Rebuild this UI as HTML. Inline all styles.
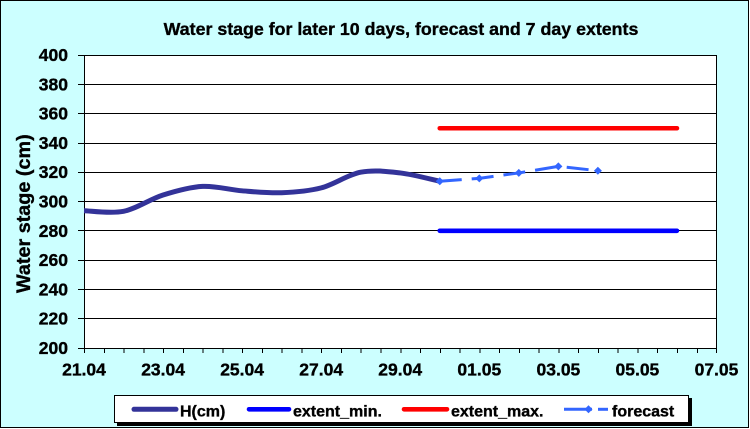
<!DOCTYPE html>
<html><head><meta charset="utf-8"><style>
html,body{margin:0;padding:0;background:#fff;}
svg{display:block;}
text{font-family:"Liberation Sans",Arial,sans-serif;font-weight:bold;fill:#000;stroke:#000;stroke-width:0.35px;}
</style></head><body>
<svg width="750" height="429" viewBox="0 0 750 429" xmlns="http://www.w3.org/2000/svg">
<rect x="0.5" y="0.5" width="748" height="427" fill="#CCFFFF" stroke="#000" stroke-width="1"/>
<text x="401" y="35" font-size="17.8" text-anchor="middle">Water stage for later 10 days, forecast and 7 day extents</text>
<!-- plot area -->
<rect x="84" y="55" width="632.5" height="293" fill="#fff"/>
<g stroke="#000" stroke-width="1" shape-rendering="crispEdges">
<line x1="78" y1="55.5" x2="716.5" y2="55.5"/>
<line x1="78" y1="84.5" x2="716.5" y2="84.5"/>
<line x1="78" y1="113.5" x2="716.5" y2="113.5"/>
<line x1="78" y1="143.5" x2="716.5" y2="143.5"/>
<line x1="78" y1="172.5" x2="716.5" y2="172.5"/>
<line x1="78" y1="201.5" x2="716.5" y2="201.5"/>
<line x1="78" y1="230.5" x2="716.5" y2="230.5"/>
<line x1="78" y1="260.5" x2="716.5" y2="260.5"/>
<line x1="78" y1="289.5" x2="716.5" y2="289.5"/>
<line x1="78" y1="318.5" x2="716.5" y2="318.5"/>
<line x1="78" y1="348.5" x2="716.5" y2="348.5"/>
<line x1="84.5" y1="55" x2="84.5" y2="353"/>
<line x1="716.5" y1="55" x2="716.5" y2="353"/>
</g>
<!-- y labels -->
<g font-size="17.5" text-anchor="end">
<text x="68" y="61">400</text>
<text x="68" y="90.3">380</text>
<text x="68" y="119.6">360</text>
<text x="68" y="148.9">340</text>
<text x="68" y="178.2">320</text>
<text x="68" y="207.5">300</text>
<text x="68" y="236.8">280</text>
<text x="68" y="266.1">260</text>
<text x="68" y="295.4">240</text>
<text x="68" y="324.7">220</text>
<text x="68" y="354">200</text>
</g>
<!-- x labels -->
<g font-size="17.5" text-anchor="middle">
<text x="84" y="375.7">21.04</text>
<text x="163.1" y="375.7">23.04</text>
<text x="242.1" y="375.7">25.04</text>
<text x="321.2" y="375.7">27.04</text>
<text x="400.2" y="375.7">29.04</text>
<text x="479.3" y="375.7">01.05</text>
<text x="558.4" y="375.7">03.05</text>
<text x="637.4" y="375.7">05.05</text>
<text x="716.5" y="375.7">07.05</text>
</g>
<text transform="translate(30,293) rotate(-90)" font-size="19.8">Water stage (cm)</text>
<!-- series -->
<line x1="439.77" y1="128.25" x2="676.95" y2="128.25" stroke="#FF0000" stroke-width="4.6" stroke-linecap="round"/>
<line x1="439.77" y1="230.8" x2="676.95" y2="230.8" stroke="#0000FF" stroke-width="4.6" stroke-linecap="round"/>
<path d="M84,210.73 C90.59,210.83 110.35,213.93 123.53,211.32 C136.71,208.71 149.88,199.20 163.06,195.05 C176.24,190.90 189.41,187.12 202.59,186.41 C215.77,185.70 228.94,189.76 242.12,190.81 C255.30,191.86 268.47,193.20 281.65,192.71 C294.83,192.22 308.00,191.30 321.18,187.88 C334.36,184.46 347.53,174.69 360.71,172.2 C373.89,169.71 387.06,171.42 400.24,172.93 C413.42,174.44 433.18,179.89 439.77,181.28" fill="none" stroke="#333399" stroke-width="5" stroke-linejoin="round"/>
<polyline points="439.77,181.28 479.3,178.35 518.83,172.93 558.36,166.34 597.89,170.73" fill="none" stroke="#3366FF" stroke-width="3" stroke-dasharray="22 10"/>
<g fill="#3366FF">
<polygon points="439.77,177.3 443.8,181.28 439.77,185.3 435.7,181.28"/>
<polygon points="479.3,174.35 483.3,178.35 479.3,182.35 475.3,178.35"/>
<polygon points="518.83,168.93 522.8,172.93 518.83,176.93 514.8,172.93"/>
<polygon points="558.36,162.34 562.4,166.34 558.36,170.34 554.3,166.34"/>
<polygon points="597.89,166.73 601.9,170.73 597.89,174.73 593.9,170.73"/>
</g>
<!-- legend -->
<rect x="117" y="398" width="575" height="28" fill="#000"/>
<rect x="114.5" y="395.5" width="574" height="27" fill="#fff" stroke="#000" stroke-width="1"/>
<line x1="134" y1="409.3" x2="176" y2="409.3" stroke="#333399" stroke-width="5" stroke-linecap="round"/>
<text x="180" y="416.5" font-size="16">H(cm)</text>
<line x1="249" y1="409.3" x2="289" y2="409.3" stroke="#0000FF" stroke-width="4.6" stroke-linecap="round"/>
<text x="293" y="416.5" font-size="16">extent_min.</text>
<line x1="404" y1="409.3" x2="447" y2="409.3" stroke="#FF0000" stroke-width="4.6" stroke-linecap="round"/>
<text x="451" y="416.5" font-size="16">extent_max.</text>
<line x1="564" y1="409.3" x2="592" y2="409.3" stroke="#3366FF" stroke-width="3"/>
<line x1="598" y1="409.3" x2="608" y2="409.3" stroke="#3366FF" stroke-width="3"/>
<polygon points="588.5,405.3 592.5,409.3 588.5,413.3 584.5,409.3" fill="#3366FF"/>
<text x="612" y="416.5" font-size="16">forecast</text>
<!-- x ticks -->
<g stroke="#000" stroke-width="1" shape-rendering="crispEdges">
<path d="M84.5,348V353M104.3,348V353M124,348V353M143.8,348V353M163.6,348V353M183.3,348V353M203.1,348V353M222.9,348V353M242.6,348V353M262.4,348V353M282.2,348V353M301.9,348V353M321.7,348V353M341.5,348V353M361.2,348V353M381,348V353M400.8,348V353M420.5,348V353M440.3,348V353M460.1,348V353M479.8,348V353M499.6,348V353M519.4,348V353M539.1,348V353M558.9,348V353M578.7,348V353M598.4,348V353M618.2,348V353M638,348V353M657.7,348V353M677.5,348V353M697.3,348V353M716.5,348V353"/>
</g>
</svg>
</body></html>
